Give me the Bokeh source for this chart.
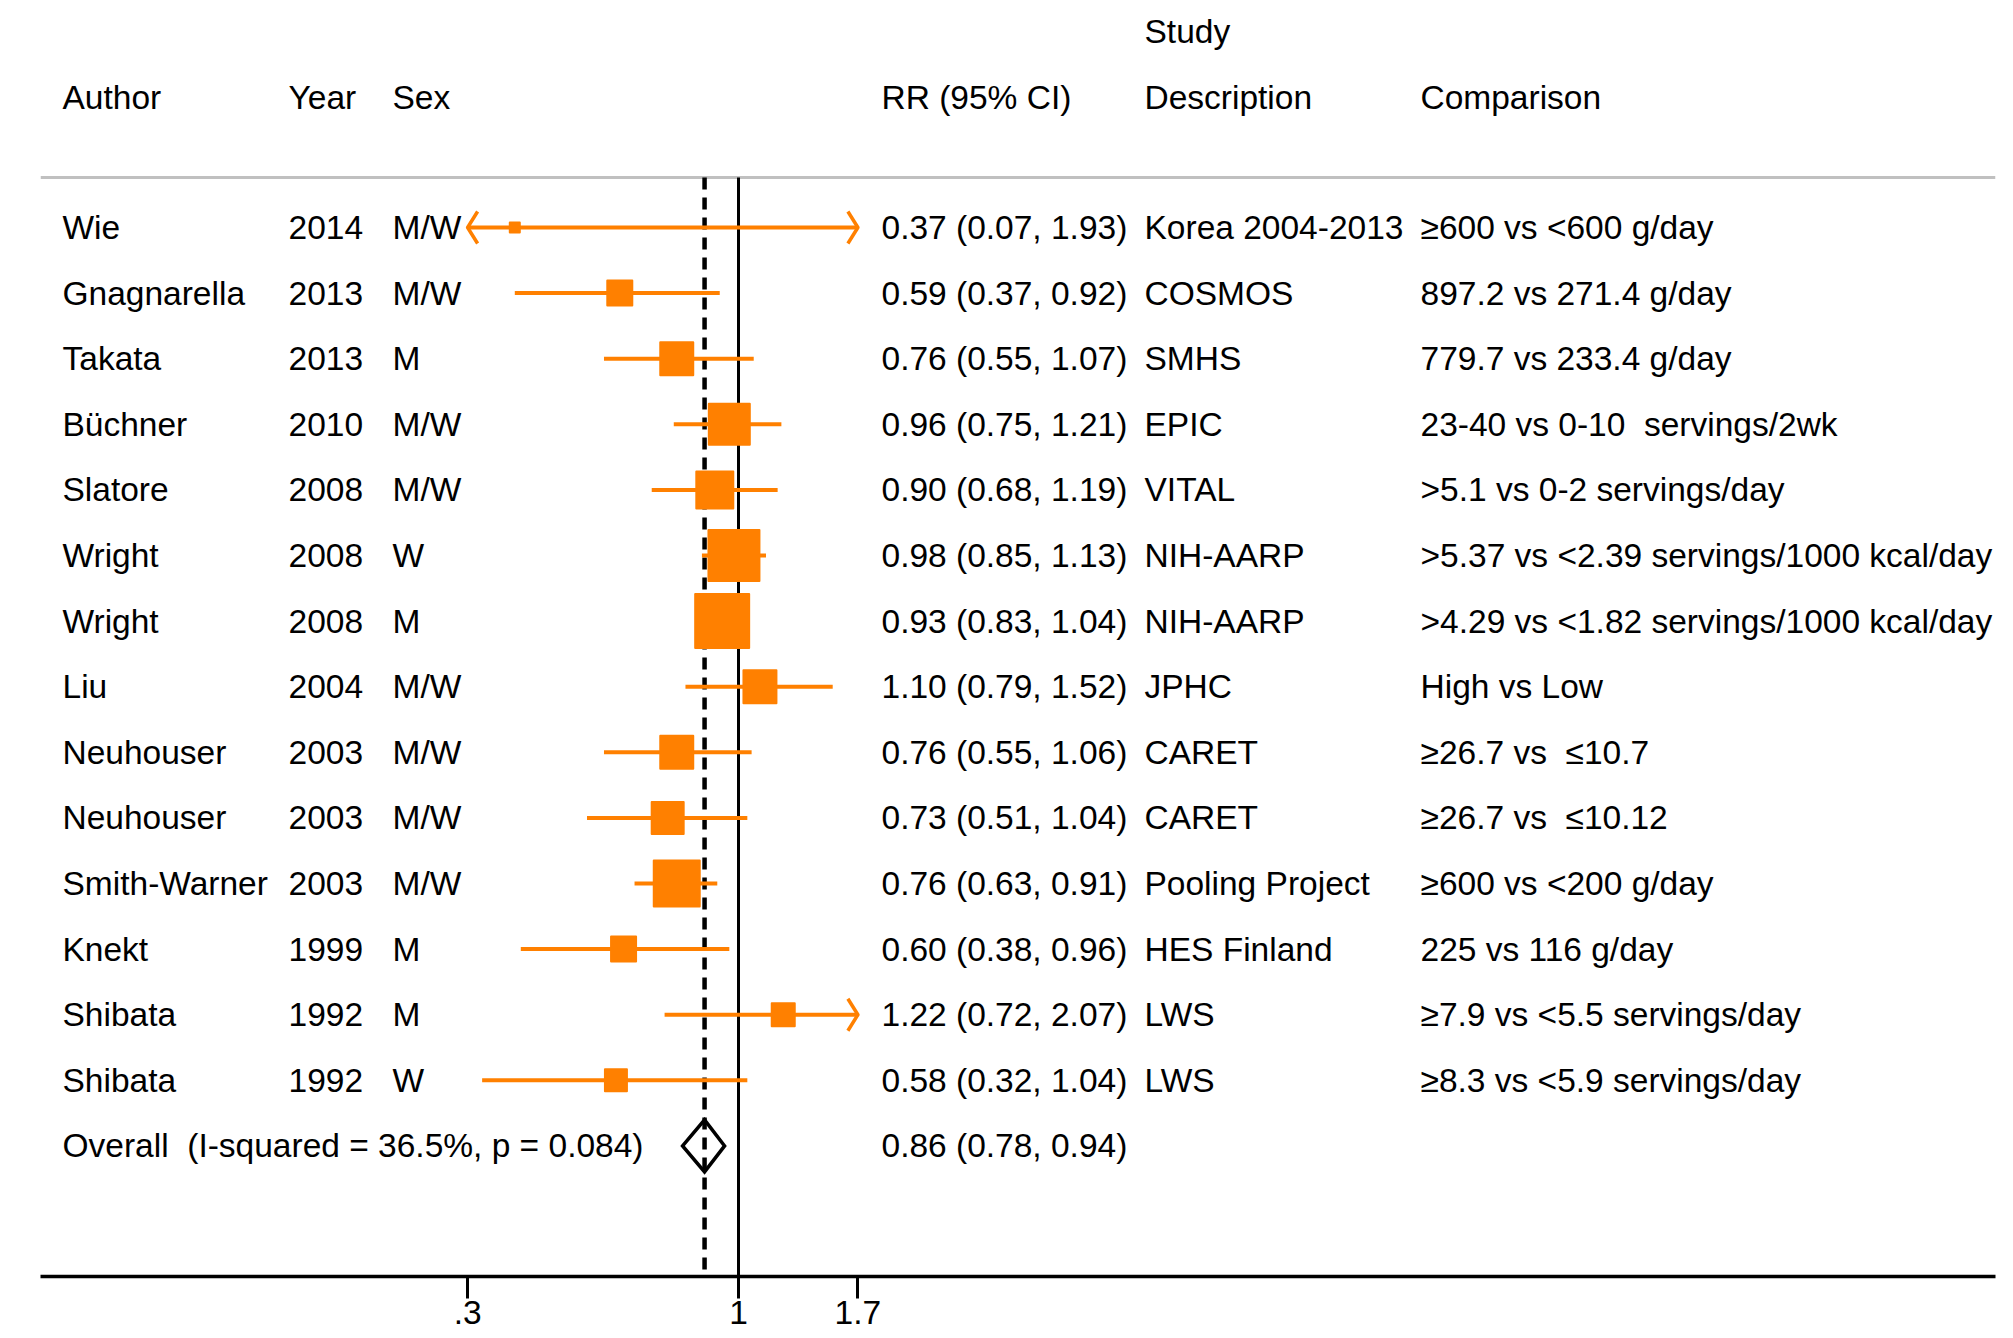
import math
from bokeh.plotting import figure
from bokeh.models import Range1d, FixedTicker, ColumnDataSource
from bokeh.core.properties import value
from bokeh.embed import file_html
from bokeh.resources import INLINE

# ---------------- data ----------------
authors = ["Wie", "Gnagnarella", "Takata", "Büchner", "Slatore", "Wright", "Wright",
           "Liu", "Neuhouser", "Neuhouser", "Smith-Warner", "Knekt", "Shibata", "Shibata"]
years = [2014, 2013, 2013, 2010, 2008, 2008, 2008, 2004, 2003, 2003, 2003, 1999, 1992, 1992]
sexes = ["M/W", "M/W", "M", "M/W", "M/W", "W", "M", "M/W", "M/W", "M/W", "M/W", "M", "M", "W"]
rr = [0.37, 0.59, 0.76, 0.96, 0.90, 0.98, 0.93, 1.10, 0.76, 0.73, 0.76, 0.60, 1.22, 0.58]
ci_lo = [0.07, 0.37, 0.55, 0.75, 0.68, 0.85, 0.83, 0.79, 0.55, 0.51, 0.63, 0.38, 0.72, 0.32]
ci_hi = [1.93, 0.92, 1.07, 1.21, 1.19, 1.13, 1.04, 1.52, 1.06, 1.04, 0.91, 0.96, 2.07, 1.04]
weights = [0.75, 3.79, 6.36, 9.60, 7.90, 14.59, 16.29, 6.36, 6.36, 6.00, 11.97, 3.79, 3.25, 2.99]
descriptions = ["Korea 2004-2013", "COSMOS", "SMHS", "EPIC", "VITAL", "NIH-AARP", "NIH-AARP",
                "JPHC", "CARET", "CARET", "Pooling Project", "HES Finland", "LWS", "LWS"]
comparisons = ["≥600 vs <600 g/day", "897.2 vs 271.4 g/day", "779.7 vs 233.4 g/day",
               "23-40 vs 0-10  servings/2wk", ">5.1 vs 0-2 servings/day",
               ">5.37 vs <2.39 servings/1000 kcal/day", ">4.29 vs <1.82 servings/1000 kcal/day",
               "High vs Low", "≥26.7 vs  ≤10.7", "≥26.7 vs  ≤10.12", "≥600 vs <200 g/day",
               "225 vs 116 g/day", "≥7.9 vs <5.5 servings/day", "≥8.3 vs <5.9 servings/day"]
overall_rr, overall_lo, overall_hi = 0.86, 0.78, 0.94
i_squared, p_het = 36.5, 0.084
axis_ticks = [0.3, 1, 1.7]
tick_labels = {0.3: ".3", 1: "1", 1.7: "1.7"}
headers_top = ["Study"]
headers = ["Author", "Year", "Sex", "RR (95% CI)", "Description", "Comparison"]

# ---------------- layout ----------------
W, H = 2013, 1338
FRAME_L, FRAME_R, FRAME_T, FRAME_B = 40, 1995, 0, 1276
ONE_PX, PX_PER_LN = 738.0, 225.0          # pixel of RR=1 and pixels per ln unit
ROW0_PX, ROW_PX = 227.0, 65.6             # first row centre, row pitch
ORANGE = "#FF8000"
FONT = "Liberation Sans"
FS = "33.5px"


def xd(px):
    return math.exp((px - ONE_PX) / PX_PER_LN)


def yd(px):
    return (px - ROW0_PX) / ROW_PX


def keep_spaces(s):
    # SVG collapses runs of spaces; keep the double spaces of the original
    return s.replace("  ", " \u00a0")


col_px = {"Author": 62, "Year": 288, "Sex": 392, "RR (95% CI)": 881,
          "Description": 1144, "Comparison": 1420}

p = figure(width=W, height=H, x_axis_type="log",
           x_range=Range1d(xd(FRAME_L), xd(FRAME_R)),
           y_range=Range1d(yd(FRAME_B), yd(FRAME_T)),
           output_backend="svg", toolbar_location=None,
           min_border_left=FRAME_L, min_border_right=W - FRAME_R,
           min_border_top=0, min_border_bottom=H - FRAME_B,
           y_axis_location=None, background_fill_color="white",
           border_fill_color="white")
p.outline_line_color = None
p.xgrid.visible = False
p.ygrid.visible = False

ax = p.xaxis[0]
ax.ticker = FixedTicker(ticks=axis_ticks)
ax.major_label_overrides = tick_labels
ax.axis_line_color = "black"
ax.axis_line_width = 3.3
ax.major_tick_line_color = "black"
ax.major_tick_line_width = 3
ax.major_tick_out = 22
ax.major_tick_in = 0
ax.minor_tick_line_color = None
ax.major_label_standoff = 2
ax.major_label_text_font = FONT
ax.major_label_text_font_size = FS
ax.major_label_text_color = "black"

n = len(authors)
rows = list(range(n))
overall_row = n
header_line_y = yd(177)

# header rule
p.segment(x0=[xd(FRAME_L)], y0=[header_line_y], x1=[xd(FRAME_R)], y1=[header_line_y],
          line_color="#C0C0C0", line_width=3)

# reference lines
p.segment(x0=[1], y0=[header_line_y], x1=[1], y1=[yd(FRAME_B)],
          line_color="black", line_width=3)
p.segment(x0=[overall_rr], y0=[header_line_y], x1=[overall_rr], y1=[yd(FRAME_B)],
          line_color="black", line_width=4.5, line_dash="12 8")

# confidence intervals clipped to axis range
t_min, t_max = min(axis_ticks), max(axis_ticks)
lo_c = [max(v, t_min) for v in ci_lo]
hi_c = [min(v, t_max) for v in ci_hi]
p.segment(x0=lo_c, y0=rows, x1=hi_c, y1=rows, line_color=ORANGE, line_width=4)

# arrow heads for clipped intervals
ARM_DX, ARM_DY = 10.0, 16.0
xs, ys = [], []
for r, l, h in zip(rows, ci_lo, ci_hi):
    if l < t_min:
        ax_ = t_min * math.exp(ARM_DX / PX_PER_LN)
        xs.append([ax_, t_min, ax_])
        ys.append([r - ARM_DY / ROW_PX, r, r + ARM_DY / ROW_PX])
    if h > t_max:
        ax_ = t_max * math.exp(-ARM_DX / PX_PER_LN)
        xs.append([ax_, t_max, ax_])
        ys.append([r - ARM_DY / ROW_PX, r, r + ARM_DY / ROW_PX])
p.multi_line(xs=xs, ys=ys, line_color=ORANGE, line_width=3.5, line_join="round")

# weight boxes (area proportional to weight)
sizes = [13.87 * math.sqrt(w) - 2 for w in weights]
p.scatter(x=rr, y=rows, size=sizes, marker="square", fill_color=ORANGE,
          line_color=ORANGE, line_width=2, line_join="round")

# overall diamond
DH = 26.0 / ROW_PX
p.patch(x=[overall_lo, overall_rr, overall_hi, overall_rr],
        y=[overall_row, overall_row - DH, overall_row, overall_row + DH],
        fill_alpha=0, line_color="black", line_width=3.5, line_join="miter")

# ---------------- text columns ----------------
def put(col, ys_, texts, dy=0):
    src = ColumnDataSource(dict(x=[xd(col_px[col])] * len(texts), y=ys_,
                                t=[keep_spaces(t) for t in texts]))
    p.text(x="x", y="y", text="t", source=src, text_font=value(FONT),
           text_font_size=FS, text_color="black", text_align="left",
           text_baseline="middle", y_offset=dy)


put("Author", rows, authors)
put("Year", rows, [str(y) for y in years])
put("Sex", rows, sexes)
put("RR (95% CI)", rows + [overall_row],
    [f"{a:.2f} ({b:.2f}, {c:.2f})" for a, b, c in zip(rr, ci_lo, ci_hi)]
    + [f"{overall_rr:.2f} ({overall_lo:.2f}, {overall_hi:.2f})"])
put("Description", rows, descriptions)
put("Comparison", rows, comparisons)
put("Author", [overall_row], [f"Overall  (I-squared = {i_squared}%, p = {p_het})"])

# headers
for h in headers:
    put(h, [yd(97)], [h])
put("Description", [yd(31)], headers_top)

open("out.html", "w").write(file_html(p, INLINE))
